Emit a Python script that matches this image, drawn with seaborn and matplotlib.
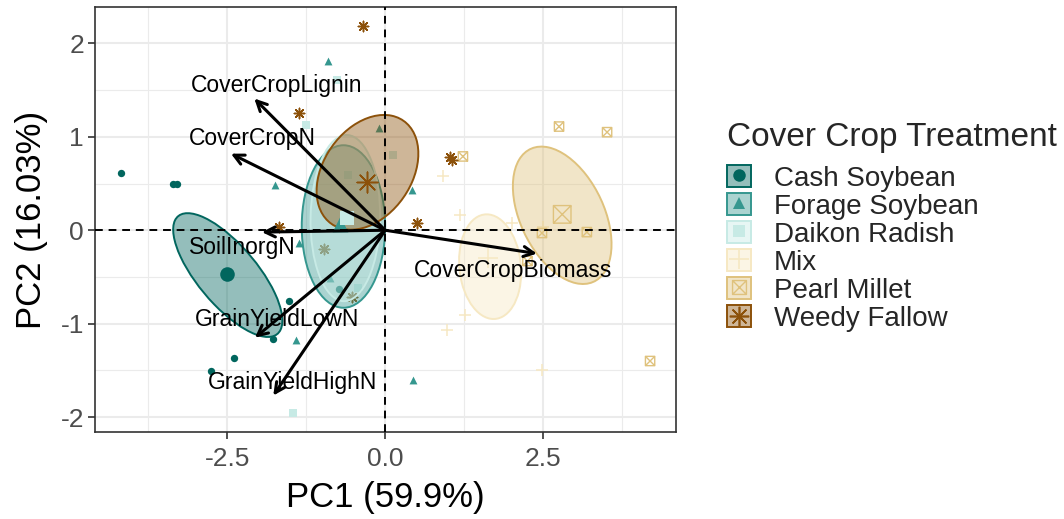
import numpy as np
import pandas as pd
import matplotlib
matplotlib.use("Agg")
import matplotlib.pyplot as plt
import seaborn as sns
from matplotlib.patches import Ellipse, Patch
from matplotlib.lines import Line2D
from matplotlib.path import Path
from matplotlib.colors import to_rgba
from matplotlib.legend_handler import HandlerTuple

# ---------------- data ----------------
treatments = ["Cash Soybean", "Forage Soybean", "Daikon Radish", "Mix", "Pearl Millet", "Weedy Fallow"]
colors = ["#01665e", "#35978f", "#c7eae5", "#f6e8c3", "#dfc27d", "#8c510a"]

cash_pc1 = [-4.18, -3.35, -3.30, -1.52, -1.77, -2.39, -2.75, -0.73]
cash_pc2 = [0.61, 0.49, 0.49, -0.76, -1.16, -1.37, -1.51, -0.63]
forage_pc1 = [-0.90, -1.74, -0.09, 0.43, -1.36, -1.41, 0.44, -0.87]
forage_pc2 = [1.81, 0.48, 1.09, 0.43, -0.14, -1.17, -1.60, -0.51]
daikon_pc1 = [-1.25, -0.76, 0.13, -0.59, -1.46, -0.43]
daikon_pc2 = [1.13, 1.61, 0.81, 0.59, -1.96, -0.62]
mix_pc1 = [0.92, 1.19, 2.01, 2.50, 1.27, 0.98, 2.48]
mix_pc2 = [0.58, 0.16, 0.08, 0.03, -0.91, -1.07, -1.50]
pearl_pc1 = [2.75, 3.51, 1.23, 2.48, 3.19, 4.19, 2.25]
pearl_pc2 = [1.11, 1.05, 0.79, -0.03, -0.02, -1.40, -0.33]
weedy_pc1 = [-0.35, -1.36, 1.03, 1.06, 0.50, -1.68, -0.96, -0.52]
weedy_pc2 = [2.19, 1.25, 0.78, 0.75, 0.08, 0.04, -0.20, -0.71]

# group centroids
mean_pc1 = [-2.50, -0.71, -0.60, 1.63, 2.80, -0.28]
mean_pc2 = [-0.47, 0.07, 0.13, -0.30, 0.17, 0.52]

# ellipses: centre, semi-axes, angle (deg)
ell_cx = [-2.49, -0.66, -0.63, 1.66, 2.80, -0.28]
ell_cy = [-0.48, 0.04, 0.13, -0.39, 0.16, 0.62]
ell_a = [1.02, 0.87, 0.89, 0.57, 0.905, 0.85]
ell_b = [0.38, 0.66, 0.55, 0.48, 0.575, 0.55]
ell_ang = [-35, 90, 88, -70, -41, 25]

# loading vectors
variables = ["CoverCropLignin", "CoverCropN", "SoilInorgN", "GrainYieldLowN",
             "GrainYieldHighN", "CoverCropBiomass"]
load_pc1 = [-2.07, -2.44, -1.95, -2.06, -1.77, 2.40]
load_pc2 = [1.41, 0.82, -0.02, -1.15, -1.77, -0.25]
label_pc1 = [-1.72, -2.10, -2.26, -1.71, -1.46, 2.03]
label_pc2 = [1.55, 0.98, -0.19, -0.96, -1.63, -0.43]

pc1_lists = [cash_pc1, forage_pc1, daikon_pc1, mix_pc1, pearl_pc1, weedy_pc1]
pc2_lists = [cash_pc2, forage_pc2, daikon_pc2, mix_pc2, pearl_pc2, weedy_pc2]

# ---------------- style ----------------
sns.set_style("white")
plt.rcParams["font.family"] = ["Liberation Sans", "DejaVu Sans"]

boxx = Path([(-1, -1), (1, -1), (1, 1), (-1, 1), (-1, -1), (-1, -1), (1, 1), (-1, 1), (1, -1)],
            [Path.MOVETO, Path.LINETO, Path.LINETO, Path.LINETO, Path.CLOSEPOLY,
             Path.MOVETO, Path.LINETO, Path.MOVETO, Path.LINETO])
asterisk = (8, 2, 0)
markers = ["o", "^", "s", "+", boxx, asterisk]
filled = [True, True, True, False, None, False]
small_sizes = [28, 32, 28, 70, 45, 55]
mean_sizes = [110, 130, 110, 220, 160, 220]

fig = plt.figure(figsize=(10.64, 5.19), dpi=100)
ax = fig.add_axes([95 / 1064, 87 / 519, 581 / 1064, 425 / 519])

def draw_points(x, y, marker, color, size, kind, z):
    df = pd.DataFrame({"PC1": x, "PC2": y})
    kw = dict(data=df, x="PC1", y="PC2", ax=ax, marker=marker, s=size, zorder=z, legend=False)
    if kind is True:
        sns.scatterplot(**kw, color=color, edgecolor=color, linewidth=0)
    elif kind is None:
        sns.scatterplot(**kw, color=color, facecolor="none", edgecolor=color, linewidth=1.0)
    else:
        sns.scatterplot(**kw, color=color, linewidth=1.1)

for i, t in enumerate(treatments):
    draw_points(pc1_lists[i], pc2_lists[i], markers[i], colors[i], small_sizes[i], filled[i], 3)

for i, t in enumerate(treatments):
    e = Ellipse((ell_cx[i], ell_cy[i]), 2 * ell_a[i], 2 * ell_b[i], angle=ell_ang[i],
                facecolor=to_rgba(colors[i], 0.42), edgecolor=colors[i], lw=1.4, zorder=4)
    ax.add_patch(e)

for i, t in enumerate(treatments):
    draw_points([mean_pc1[i]], [mean_pc2[i]], markers[i], colors[i], mean_sizes[i], filled[i], 5)

ax.axhline(0, color="black", lw=1.4, ls=(0, (4, 3)), zorder=6)
ax.axvline(0, color="black", lw=1.4, ls=(0, (4, 3)), zorder=6)

for i, v in enumerate(variables):
    ax.annotate("", xy=(load_pc1[i], load_pc2[i]), xytext=(0, 0),
                arrowprops=dict(arrowstyle="->", lw=2.2, color="black", mutation_scale=18,
                                shrinkA=0, shrinkB=0), zorder=7)
    ax.text(label_pc1[i], label_pc2[i], v, ha="center", va="center", fontsize=16.5,
            color="black", zorder=8)

ax.set_xlim(-4.59, 4.60)
ax.set_ylim(-2.16, 2.39)
ax.set_xticks([-2.5, 0, 2.5])
ax.set_xticklabels(["-2.5", "0.0", "2.5"])
ax.set_xticks([-3.75, -1.25, 1.25, 3.75], minor=True)
ax.set_yticks([-2, -1, 0, 1, 2])
ax.set_yticklabels(["-2", "-1", "0", "1", "2"])
ax.set_yticks([-1.5, -0.5, 0.5, 1.5], minor=True)
ax.grid(which="major", color="#ebebeb", lw=1.5, zorder=0)
ax.grid(which="minor", color="#ebebeb", lw=0.8, zorder=0)
ax.set_axisbelow(True)
for s in ax.spines.values():
    s.set_color("#333333")
    s.set_linewidth(1.2)
ax.tick_params(which="major", length=5, width=1.2, color="#333333", labelsize=19,
               labelcolor="#4d4d4d", pad=3, bottom=True, left=True)
ax.tick_params(axis="x", which="major", pad=6)
ax.tick_params(which="minor", length=0)
ax.set_xlabel("PC1 (59.9%)", fontsize=25, color="black", labelpad=7)
ax.set_ylabel("PC2 (16.03%)", fontsize=25, color="black", labelpad=9)

handles = []
for i, t in enumerate(treatments):
    p = Patch(facecolor=to_rgba(colors[i], 0.42), edgecolor=colors[i], lw=1.4)
    if filled[i] is True:
        m = Line2D([], [], marker=markers[i], color=colors[i], ls="none", markersize=9,
                   markeredgewidth=0)
    elif filled[i] is None:
        m = Line2D([], [], marker=markers[i], color=colors[i], ls="none", markersize=10,
                   markerfacecolor="none", markeredgewidth=1.0)
    else:
        m = Line2D([], [], marker=markers[i], color=colors[i], ls="none", markersize=14,
                   markeredgewidth=1.2)
    handles.append((p, m))

leg = fig.legend(handles, treatments, handler_map={tuple: HandlerTuple(ndivide=1)},
                 loc="upper left", bbox_to_anchor=(727 / 1064, 1 - 122 / 519),
                 frameon=False, fontsize=20, title="Cover Crop Treatment",
                 title_fontsize=24, alignment="left", handlelength=0.85, handleheight=0.85,
                 handletextpad=0.85, labelspacing=0.05, borderpad=0, borderaxespad=0)
leg._legend_box.sep = 8.5

fig.savefig("out.png", dpi=100)
